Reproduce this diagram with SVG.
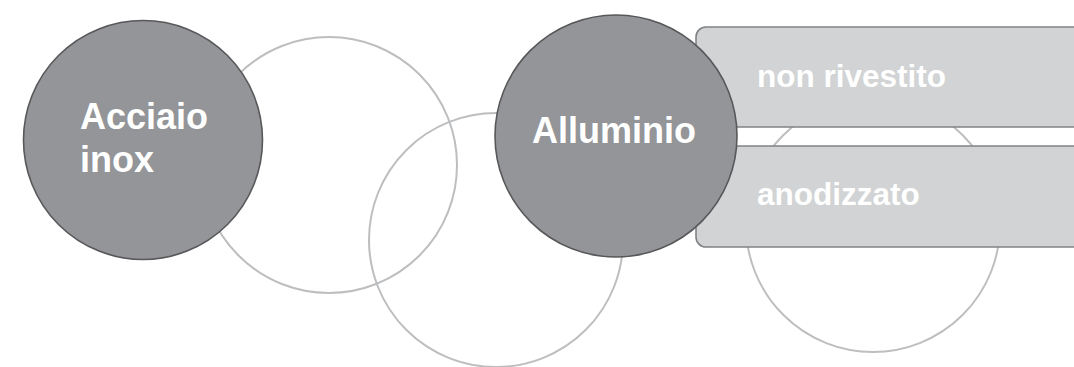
<svg xmlns="http://www.w3.org/2000/svg" width="1074" height="367" viewBox="0 0 1074 367">
  <style>
    .ring { fill: none; stroke: #bcbec0; stroke-width: 2; }
    .main { fill: #939598; stroke: #58585a; stroke-width: 1.6; }
    .box { fill: #d1d3d4; stroke: #808285; stroke-width: 1.6; }
    .lbl { font-family: "Liberation Sans", Arial, sans-serif; font-weight: bold; fill: #ffffff; }
    .big { font-size: 36px; }
    .small { font-size: 31.5px; }
  </style>
  <rect width="1074" height="367" fill="#ffffff"/>
  <g id="decor">
    <circle class="ring" cx="329" cy="165" r="128"/>
    <circle class="ring" cx="496" cy="240" r="127"/>
    <circle class="ring" cx="873" cy="225" r="127"/>
  </g>
  <g id="connectors"></g>
  <g id="node-non-rivestito">
    <rect class="box" x="696" y="27" width="400" height="100" rx="10" ry="10"/>
    <text class="lbl small" x="757" y="87">non rivestito</text>
  </g>
  <g id="node-anodizzato">
    <rect class="box" x="696" y="146" width="400" height="101" rx="10" ry="10"/>
    <text class="lbl small" x="757" y="205">anodizzato</text>
  </g>
  <g id="node-acciaio-inox">
    <circle class="main" cx="143" cy="140" r="119.5"/>
    <text class="lbl big" x="80" y="128.5">Acciaio</text>
    <text class="lbl big" x="80" y="172">inox</text>
  </g>
  <g id="node-alluminio">
    <circle class="main" cx="616" cy="136" r="121"/>
    <text class="lbl big" x="532" y="143">Alluminio</text>
  </g>
</svg>
